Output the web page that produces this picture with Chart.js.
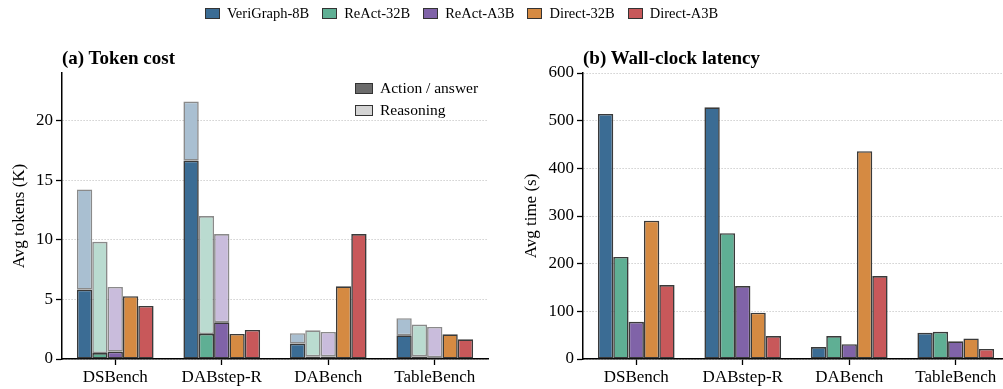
<!DOCTYPE html>
<html><head><meta charset="utf-8">
<script src="https://cdn.jsdelivr.net/npm/chart.js@4.4.0/dist/chart.umd.min.js"></script>
<style>
html,body{margin:0;padding:0;width:1003px;height:389px;overflow:hidden;background:#fff;font-family:"Liberation Serif","DejaVu Serif",serif;}
#wrap{position:relative;width:1003px;height:389px;overflow:hidden;}
.cv{position:absolute;top:0;}
.title{position:absolute;font-weight:bold;font-size:19px;color:#000;line-height:1;}
.leg{position:absolute;display:flex;align-items:center;font-size:14.5px;color:#000;white-space:nowrap;}
.leg .it{display:flex;align-items:center;margin-right:13px;}
.leg .bx{width:13px;height:9px;border:1px solid #333;margin-right:7px;}
.ileg{position:absolute;font-size:15.5px;color:#000;white-space:nowrap;}
.ileg .row{display:flex;align-items:center;height:22px;}
.ileg .bx{width:16px;height:9px;border:1.3px solid #333;margin-right:7px;}
</style></head>
<body><div id="wrap">
<div class="cv" style="left:0;width:500px;height:389px;"><canvas id="c1"></canvas></div>
<div class="cv" style="left:500px;width:512px;height:389px;"><canvas id="c2"></canvas></div>
<div class="title" style="left:62px;top:48px;">(a) Token cost</div>
<div class="title" style="left:583px;top:48px;">(b) Wall-clock latency</div>
<div class="leg" id="leg" style="left:205px;top:5px;"></div>
<div class="ileg" style="left:355px;top:77px;">
 <div class="row"><span class="bx" style="background:#6b6b6b"></span>Action / answer</div>
 <div class="row"><span class="bx" style="background:#d4d4d4"></span>Reasoning</div>
</div>
</div>
<script>
const categories = ['DSBench','DABstep-R','DABench','TableBench'];
const models = ['VeriGraph-8B','ReAct-32B','ReAct-A3B','Direct-32B','Direct-A3B'];
const colors = ['#3b6c94','#5faf94','#8063a8','#d58a42','#c8585a'];
const lightColors = ['#a9bfd1','#badbd0','#c9bcdc'];

// (a) token cost, thousands of tokens
const actionVeriGraph = [5.83, 16.64, 1.29, 1.99];
const reasoningVeriGraph = [8.40, 4.96, 0.87, 1.43];
const actionReAct32 = [0.50, 2.10, 0.22, 0.22];
const reasoningReAct32 = [9.33, 9.89, 2.19, 2.67];
const actionReActA3 = [0.62, 3.08, 0.22, 0.14];
const reasoningReActA3 = [5.43, 7.40, 2.05, 2.55];
const tokensDirect32 = [5.27, 2.10, 6.10, 2.07];
const tokensDirectA3 = [4.45, 2.44, 10.48, 1.65];
const tokenTicks = [0, 5, 10, 15, 20];

// (b) latency, seconds
const timeVeriGraph = [514, 528, 25, 55];
const timeReAct32 = [214, 264, 48, 57];
const timeReActA3 = [78, 153, 31, 37];
const timeDirect32 = [290, 97, 436, 43];
const timeDirectA3 = [155, 48, 174, 21];
const timeTicks = [0, 100, 200, 300, 400, 500, 600];

// legend
const leg = document.getElementById('leg');
models.forEach((m,i)=>{
  const d=document.createElement('div');d.className='it';
  d.innerHTML='<span class="bx" style="background:'+colors[i]+'"></span>'+m;
  leg.appendChild(d);
});

const FONT = "'Liberation Serif', 'DejaVu Serif', serif";
const darkBorder = '#3a3a3a';
const lightBorder = 'rgba(60,60,60,0.6)';

function bar(label, data, color, stack, border){
  return {label, data, backgroundColor: color, borderColor: border || darkBorder,
          borderWidth: 1.6, borderSkipped: false, stack};
}

function scales(yMax, ticks, yTitle, yWidth, titlePad){
  return {
    x: {
      type:'category', offset:true, stacked:true,
      grid:{drawOnChartArea:false, drawTicks:true, tickLength:6, tickColor:'#000', tickWidth:1.3, offset:false},
      border:{color:'#000', width:1.5},
      ticks:{color:'#000', font:{family:FONT, size:17}, padding:2, maxRotation:0, autoSkip:false},
      afterFit(s){ s.height = 30; }
    },
    y: {
      min:0, max:yMax, stacked:true,
      afterBuildTicks(s){ s.ticks = ticks.map(v=>({value:v})); },
      grid:{color:'#bdbdbd', lineWidth:0.9, drawTicks:true, tickLength:6,
            tickColor:'#000', tickWidth:1.3, tickBorderDash:[]},
      border:{color:'#000', width:1.5, dash:[1.2,1.8]},
      ticks:{color:'#000', font:{family:FONT, size:17}, padding:3},
      title:{display:true, text:yTitle, color:'#000', font:{family:FONT, size:17}, padding:{top:titlePad, bottom:0}},
      afterFit(s){ s.width = yWidth; }
    }
  };
}

const common = {
  responsive:true, maintainAspectRatio:false, animation:false,
  plugins:{legend:{display:false}, tooltip:{enabled:false}, title:{display:false}},
};

new Chart(document.getElementById('c1'), {
  type:'bar',
  data:{ labels:categories, datasets:[
    bar('VeriGraph-8B action', actionVeriGraph, colors[0], 'vg'),
    bar('VeriGraph-8B reasoning', reasoningVeriGraph, lightColors[0], 'vg', lightBorder),
    bar('ReAct-32B action', actionReAct32, colors[1], 'r32'),
    bar('ReAct-32B reasoning', reasoningReAct32, lightColors[1], 'r32', lightBorder),
    bar('ReAct-A3B action', actionReActA3, colors[2], 'ra3'),
    bar('ReAct-A3B reasoning', reasoningReActA3, lightColors[2], 'ra3', lightBorder),
    bar('Direct-32B', tokensDirect32, colors[3], 'd32'),
    bar('Direct-A3B', tokensDirectA3, colors[4], 'da3'),
  ].map(d=>Object.assign(d,{categoryPercentage:0.72, barPercentage:1.0}))},
  options: Object.assign({}, common, {
    layout:{padding:{top:73, right:12, left:0, bottom:0}},
    scales: scales(24, tokenTicks, 'Avg tokens (K)', 62, 9)
  })
});

new Chart(document.getElementById('c2'), {
  type:'bar',
  data:{ labels:categories, datasets:[
    bar('VeriGraph-8B', timeVeriGraph, colors[0], 'a'),
    bar('ReAct-32B', timeReAct32, colors[1], 'b'),
    bar('ReAct-A3B', timeReActA3, colors[2], 'c'),
    bar('Direct-32B', timeDirect32, colors[3], 'd'),
    bar('Direct-A3B', timeDirectA3, colors[4], 'e'),
  ].map(d=>Object.assign(d,{categoryPercentage:0.72, barPercentage:1.0}))},
  options: Object.assign({}, common, {
    layout:{padding:{top:73, right:3, left:0, bottom:0}},
    scales: scales(600, timeTicks, 'Avg time (s)', 83, 21)
  })
});
</script>
</body></html>
